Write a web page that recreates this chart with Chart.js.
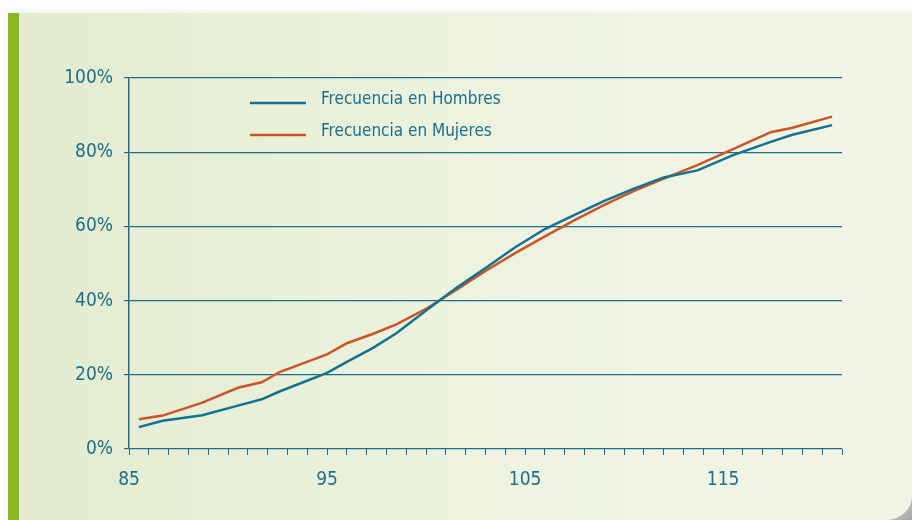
<!DOCTYPE html>
<html>
<head>
<meta charset="utf-8">
<script src="https://cdn.jsdelivr.net/npm/chart.js@4"></script>
<style>
  html, body { margin: 0; padding: 0; background: #fff; }
  #wrap { position: relative; width: 912px; height: 520px; overflow: hidden; background: #fff; }
  #curl {
    position: absolute; right: 0; bottom: 0; width: 40px; height: 40px;
    background: linear-gradient(135deg, #e0e0e0 30%, #a8a8a8 100%);
  }
  #panel {
    position: absolute; left: 8px; top: 13px; right: 0; bottom: 0;
    background: linear-gradient(to right, #e2ebcf 0%, #eaf1da 35%, #eff4e3 70%, #f0f5e5 100%);
    box-shadow: 0 -2px 6px rgba(0,0,0,0.06);
    border-bottom-right-radius: 26px 24px;
  }
  #bar { position: absolute; left: 8px; top: 13px; width: 11px; bottom: 0; background: #89b81f; }
  canvas { position: absolute; left: 0; top: 0; }
</style>
</head>
<body>
<div id="wrap">
  <div id="curl"></div>
  <div id="panel"></div>
  <div id="bar"></div>
  <canvas id="c" width="912" height="520"></canvas>
</div>
<script>
// circunferencia (x) and cumulative frequency (%)
const tallas = [85.5, 86.7, 88.7, 90.5, 91.7, 92.6, 95, 96, 97.3, 98.5, 100, 101.5, 103, 104.5, 106, 107.5, 109, 110.5, 112, 113.7, 115.5, 117.4, 118.5, 120.5];
const hombres = [5.9, 7.6, 9.1, 11.7, 13.4, 15.5, 20.5, 23.5, 27.2, 31.2, 37.3, 43.3, 48.8, 54.4, 59.3, 63.1, 66.9, 70.2, 73.2, 75.1, 79.2, 82.8, 84.7, 87.3];
const mujeres = [8.0, 9.0, 12.5, 16.5, 18.0, 20.7, 25.5, 28.5, 31.0, 33.6, 37.8, 42.8, 48.0, 52.8, 57.3, 61.7, 65.8, 69.6, 72.9, 76.5, 80.8, 85.4, 86.6, 89.6];
const labels = ['Frecuencia en Hombres', 'Frecuencia en Mujeres'];
const xLabels = [85, 95, 105, 115];

const teal = '#1a6f8f';
const blue = '#137193';
const orange = '#cb5526';
const fam = "'Liberation Sans Narrow', 'DejaVu Sans Condensed', 'Open Sans', sans-serif";

const toPts = (ys) => ys.map((v, i) => ({ x: tallas[i], y: v }));

const legendPlugin = {
  id: 'legendLines',
  afterDraw(chart) {
    const g = chart.ctx;
    g.save();
    chart.data.datasets.forEach((ds, i) => {
      const y = 103 + i * 32;
      g.strokeStyle = ds.borderColor;
      g.lineWidth = 2.5;
      g.beginPath();
      g.moveTo(250, y);
      g.lineTo(306, y);
      g.stroke();
      g.fillStyle = teal;
      g.font = '17px ' + fam;
      g.textBaseline = 'middle';
      g.fillText(ds.label, 321, y - 3);
    });
    g.restore();
  }
};

new Chart(document.getElementById('c'), {
  type: 'line',
  data: {
    datasets: [
      { label: labels[0], data: toPts(hombres), borderColor: blue, borderWidth: 2.5, pointRadius: 0, tension: 0 },
      { label: labels[1], data: toPts(mujeres), borderColor: orange, borderWidth: 2.5, pointRadius: 0, tension: 0 }
    ]
  },
  options: {
    responsive: false,
    animation: false,
    events: [],
    layout: { padding: { left: 20, right: 70, top: 78, bottom: 20 } },
    plugins: { legend: { display: false }, tooltip: { enabled: false } },
    scales: {
      x: {
        type: 'linear',
        min: 85,
        max: 121,
        afterFit: (s) => { s.height = 51; },
        afterBuildTicks: (s) => {
          s.ticks = [];
          for (let v = 85; v <= 121; v++) s.ticks.push({ value: v });
        },
        border: { display: false },
        grid: { drawOnChartArea: false, color: teal, tickLength: 6, tickColor: teal },
        ticks: {
          autoSkip: false,
          maxRotation: 0,
          color: teal,
          padding: 14,
          font: { family: fam, size: 19 },
          callback: (v) => xLabels.includes(v) ? String(v) : ''
        }
      },
      y: {
        min: 0,
        max: 100,
        afterFit: (s) => { s.width = 109; },
        border: { display: true, color: teal, width: 1.5 },
        grid: { color: teal, lineWidth: 1.2, tickLength: 5, tickColor: teal },
        ticks: {
          stepSize: 20,
          color: teal,
          padding: 11,
          font: { family: fam, size: 19 },
          callback: (v) => v + '%'
        }
      }
    }
  },
  plugins: [legendPlugin]
});
</script>
</body>
</html>
